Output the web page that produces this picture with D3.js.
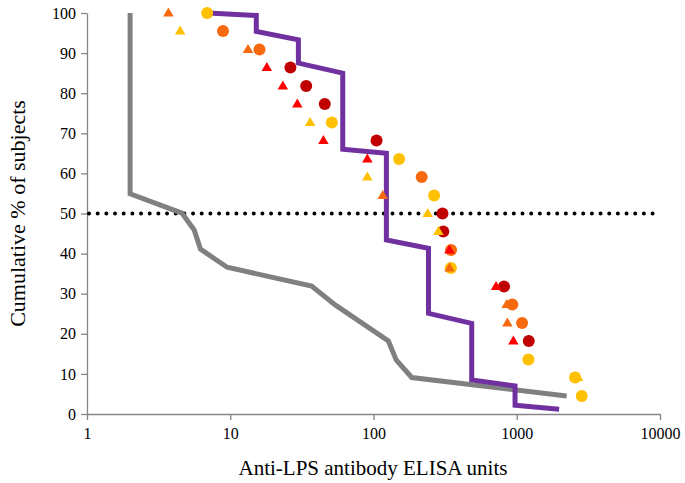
<!DOCTYPE html>
<html>
<head>
<meta charset="utf-8">
<script src="https://cdn.jsdelivr.net/npm/d3@7"></script>
<style>
  html, body { margin: 0; padding: 0; background: #fff; }
  svg { display: block; }
  text { font-family: "Liberation Serif", "Times New Roman", serif; fill: #000; }
</style>
</head>
<body>
<svg id="chart" width="685" height="483"></svg>
<script>
// ---- data ----
const xTicks = [1, 10, 100, 1000, 10000];
const yTicks = [0, 10, 20, 30, 40, 50, 60, 70, 80, 90, 100];
const xTitle = "Anti-LPS antibody ELISA units";
const yTitle = "Cumulative % of subjects";

// step curve (purple)
const purpleX = [7, 15.2, 15.2, 29.9, 29.9, 61, 61, 123, 123, 242, 242, 485, 485, 973, 973, 1977];
const purpleY = [100, 99.4, 95.4, 93.3, 87.5, 85, 66, 65, 43.4, 41.3, 25.1, 22.6, 8.5, 7.0, 2.2, 1.2];

// grey curve
const greyX = [2, 2, 4.6, 5.6, 6.2, 9.5, 37, 54, 127, 144, 185, 2230];
const greyY = [100, 54.9, 50.1, 45.9, 41.1, 36.6, 31.9, 27.2, 18.2, 13.5, 9.1, 4.5];

// 50% reference line
const refY = [50];

// marker series
const darkRedCircleX = [26.3, 33.9, 45.7, 105, 303, 307, 815, 1213];
const darkRedCircleY = [86.4, 81.8, 77.3, 68.2, 50, 45.5, 31.8, 18.2];
const orangeCircleX = [8.9, 16.0, 217, 348, 931, 1089];
const orangeCircleY = [95.5, 90.9, 59.1, 40.9, 27.3, 22.7];
const yellowTriX = [4.47, 36.1, 90.6, 239, 284, 2680];
const yellowTriY = [95.5, 72.7, 59.1, 50, 45.5, 9.1];
const yellowCircleX = [6.9, 51.2, 151, 265, 347, 1206, 2553, 2842];
const yellowCircleY = [100, 72.7, 63.6, 54.5, 36.4, 13.6, 9.1, 4.5];
const orangeTriX = [3.7, 13.3, 116, 339, 851, 860];
const orangeTriY = [100, 90.9, 54.5, 36.4, 27.3, 22.7];
const redTriX = [18.0, 23.3, 29.4, 44.7, 90.6, 339, 717, 947];
const redTriY = [86.4, 81.8, 77.3, 68.2, 63.6, 40.9, 31.8, 18.2];

// ---- drawing ----
const svg = d3.select("#chart");
const x = d3.scaleLog().domain([1, 10000]).range([87, 660]);
const y = d3.scaleLinear().domain([0, 100]).range([414, 13]);
const axisColor = "#868686";
const serif = '"Liberation Serif", "Times New Roman", serif';

// axes
const gx = svg.append("g").attr("transform", `translate(0,${y(0)})`)
  .call(d3.axisBottom(x).tickValues(xTicks).tickFormat(d3.format("d")).tickSize(6).tickSizeOuter(0).tickPadding(8));
const gy = svg.append("g").attr("transform", `translate(${x(1)},0)`)
  .call(d3.axisLeft(y).tickValues(yTicks).tickSize(6).tickSizeOuter(0).tickPadding(5));
[gx, gy].forEach(g => {
  g.attr("font-family", serif).attr("font-size", 16);
  g.select(".domain").attr("stroke", axisColor).attr("stroke-width", 1.3);
  g.selectAll(".tick line").attr("stroke", axisColor).attr("stroke-width", 1.3);
  g.selectAll(".tick text").attr("font-family", serif).attr("font-size", 16).attr("fill", "#000");
});

// 50% dotted line
svg.selectAll(".ref").data(refY).enter().append("line")
  .attr("x1", x(1) + 2).attr("x2", x(10000))
  .attr("y1", d => y(d)).attr("y2", d => y(d))
  .attr("stroke", "#000").attr("stroke-width", 4)
  .attr("stroke-linecap", "round").attr("stroke-dasharray", "0 8.67");

const line = d3.line().x(d => x(d[0])).y(d => y(d[1]));

svg.append("path").datum(greyX.map((v, i) => [v, greyY[i]]))
  .attr("d", line).attr("fill", "none").attr("stroke", "#808080")
  .attr("stroke-width", 5).attr("stroke-linejoin", "miter");

svg.append("path").datum(purpleX.map((v, i) => [v, purpleY[i]]))
  .attr("d", line).attr("fill", "none").attr("stroke", "#7030A0")
  .attr("stroke-width", 5).attr("stroke-linejoin", "miter");

// markers
const tri = d3.symbol().type(d3.symbolTriangle).size(48);
function circles(xs, ys, color) {
  svg.append("g").selectAll("circle").data(xs.map((v, i) => [v, ys[i]])).enter()
    .append("circle").attr("cx", d => x(d[0])).attr("cy", d => y(d[1]))
    .attr("r", 6).attr("fill", color);
}
function triangles(xs, ys, color) {
  svg.append("g").selectAll("path").data(xs.map((v, i) => [v, ys[i]])).enter()
    .append("path").attr("d", tri)
    .attr("transform", d => `translate(${x(d[0])},${y(d[1]) + 0.5})`)
    .attr("fill", color);
}
circles(darkRedCircleX, darkRedCircleY, "#C00000");
circles(orangeCircleX, orangeCircleY, "#F6690E");
triangles(yellowTriX, yellowTriY, "#FFC000");
circles(yellowCircleX, yellowCircleY, "#FFC000");
triangles(orangeTriX, orangeTriY, "#F6690E");
triangles(redTriX, redTriY, "#FF0000");

// titles
svg.append("text").attr("x", 373).attr("y", 475).attr("text-anchor", "middle")
  .attr("font-family", serif).style("font-size", "21px").text(xTitle);
svg.append("text").attr("transform", `translate(25,${y(50)}) rotate(-90)`)
  .attr("text-anchor", "middle").attr("font-family", serif).style("font-size", "22px").text(yTitle);
</script>
</body>
</html>
